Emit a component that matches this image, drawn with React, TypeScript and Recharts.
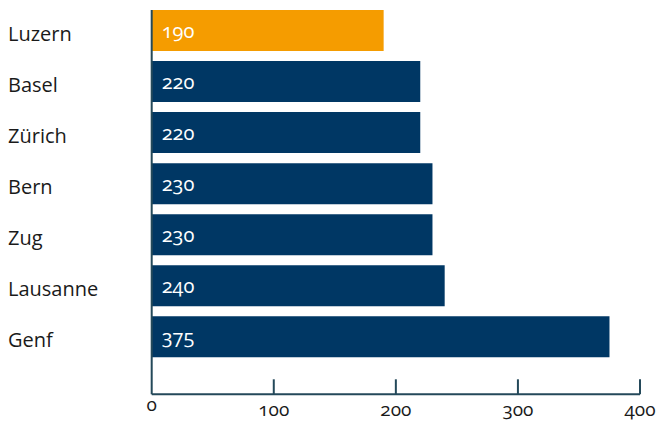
import { BarChart, Bar, XAxis, YAxis, Cell, LabelList } from 'recharts';

const cities = ['Luzern', 'Basel', 'Zürich', 'Bern', 'Zug', 'Lausanne', 'Genf'];
const values = [190, 220, 220, 230, 230, 240, 375];
const highlight = ['Luzern'];
const xTicks = [0, 100, 200, 300, 400];

const data = cities.map((city, i) => ({ city, value: values[i] }));

const FONT = '"Open Sans", sans-serif';
const AXIS = '#24495a';

const CityTick = (props: any) => {
    const { y, payload } = props;
    return (
        <text x={8} y={y} dy={10} fontSize={20} fontFamily={FONT} fill="#1a1a1a" textAnchor="start">
            {payload.value}
        </text>
    );
};

const ValueTick = (props: any) => {
    const { x, y, payload } = props;
    const first = payload.value === 0;
    return (
        <g>
            {!first && <line x1={x} x2={x} y1={y - 15} y2={y} stroke={AXIS} strokeWidth={2} />}
            <text
                x={x}
                y={y}
                dy={first ? 17 : 22}
                fontSize={19}
                fontFamily={FONT}
                fill="#1a1a1a"
                textAnchor="middle"
                style={{ fontVariantNumeric: 'oldstyle-nums' }}
            >
                {payload.value}
            </text>
        </g>
    );
};

const App = () => {
    return (
        <>
            <style>{'html, body { margin: 0; overflow: hidden; }'}</style>
            <BarChart
                width={660}
                height={421}
                data={data}
                layout="vertical"
                margin={{ top: 10, right: 20, left: 8, bottom: 0 }}
            >
                <XAxis
                    type="number"
                    domain={[0, 400]}
                    ticks={xTicks}
                    tickSize={0}
                    tickMargin={0}
                    height={26.7}
                    stroke={AXIS}
                    strokeWidth={2}
                    tick={<ValueTick />}
                    tickLine={false}
                />
                <YAxis
                    type="category"
                    dataKey="city"
                    width={143.7}
                    padding={{ top: -5, bottom: 32 }}
                    stroke={AXIS}
                    strokeWidth={2}
                    tickLine={false}
                    tick={<CityTick />}
                />
                <Bar dataKey="value" barSize={41} isAnimationActive={false}>
                    {data.map((d) => (
                        <Cell key={d.city} fill={highlight.includes(d.city) ? '#f59c00' : '#003764'} />
                    ))}
                    <LabelList
                        dataKey="value"
                        position="insideLeft"
                        offset={10}
                        fill="#ffffff"
                        fontSize={20}
                        fontFamily={FONT}
                        style={{ fontVariantNumeric: 'oldstyle-nums' }}
                    />
                </Bar>
            </BarChart>
        </>
    );
};

export default App;
